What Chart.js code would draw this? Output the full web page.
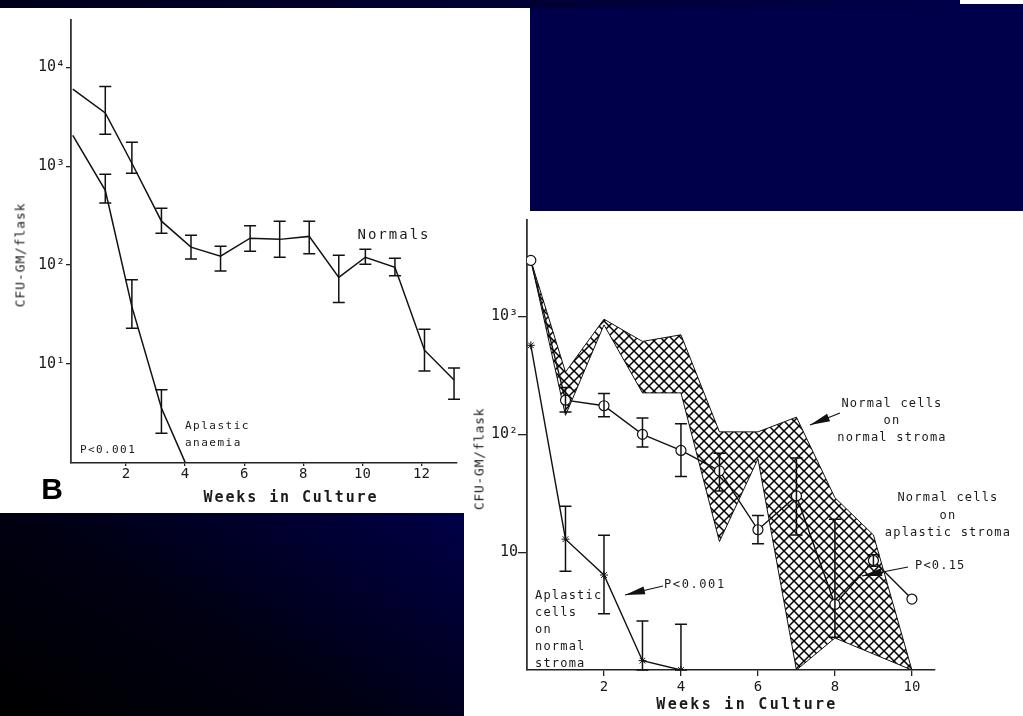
<!DOCTYPE html>
<html>
<head>
<meta charset="utf-8">
<script src="https://cdn.jsdelivr.net/npm/chart.js@4.4.1/dist/chart.umd.min.js"></script>
<style>
    html, body { margin: 0; padding: 0; }
    body { width: 1023px; height: 716px; position: relative; overflow: hidden; background: #00004a; }
    .blk { position: absolute; }
    .t { position: absolute; font-family: 'DejaVu Sans Mono', monospace; color: #1a1a1a; white-space: pre; line-height: 1; }
    .c { transform: translate(-50%, -50%); text-align: center; }
    .v { transform: translate(-50%, -50%) rotate(-90deg); }
    canvas { position: absolute; }
</style>
</head>
<body>
<div class="blk" style="left:0;top:0;width:960px;height:8px;background:linear-gradient(to right,#00001a,#00004a);"></div>
<div class="blk" style="left:960px;top:0;width:63px;height:4px;background:#fff;"></div>
<div class="blk" style="left:0;top:513px;width:464px;height:203px;background:linear-gradient(30deg,#000000 0%,#000012 45%,#000048 100%);"></div>
<div class="blk" style="left:0;top:8px;width:530px;height:505px;background:#fff;"></div>
<div class="blk" style="left:464px;top:211px;width:559px;height:505px;background:#fff;"></div>

<canvas id="grafico_1" width="530" height="505" style="left:0;top:8px;"></canvas>
<canvas id="grafico_2" width="559" height="505" style="left:464px;top:211px;"></canvas>

<!-- textos do grafico B -->
<div class="t v" style="left:20px;top:255px;font-size:13px;letter-spacing:0.9px;">CFU-GM/flask</div>
<div class="t c" style="left:394px;top:234px;font-size:14px;letter-spacing:2px;">Normals</div>
<div class="t" style="left:185px;top:417px;font-size:11px;letter-spacing:1.5px;line-height:17px;">Aplastic
anaemia</div>
<div class="t" style="left:80px;top:444px;font-size:11px;letter-spacing:1.4px;">P&lt;0.001</div>
<div class="t c" style="left:52px;top:489px;font-family:'Liberation Sans',Arial,sans-serif;font-weight:bold;font-size:30px;color:#000;">B</div>
<div class="t c" style="left:291px;top:497px;font-size:15px;font-weight:bold;letter-spacing:1.9px;">Weeks in Culture</div>

<!-- textos do grafico da direita -->
<div class="t v" style="left:479px;top:459px;font-size:13px;letter-spacing:0.7px;">CFU-GM/flask</div>
<div class="t c" style="left:892px;top:420px;font-size:12px;letter-spacing:1.2px;line-height:17px;">Normal cells
on
normal stroma</div>
<div class="t c" style="left:948px;top:515px;font-size:12px;letter-spacing:1.2px;line-height:17.5px;">Normal cells
on
aplastic stroma</div>
<div class="t" style="left:915px;top:559px;font-size:12px;letter-spacing:1.2px;">P&lt;0.15</div>
<div class="t" style="left:664px;top:578px;font-size:12px;letter-spacing:1.6px;">P&lt;0.001</div>
<div class="t" style="left:535px;top:587px;font-size:12px;letter-spacing:1.2px;line-height:17px;">Aplastic
cells
on
normal
stroma</div>
<div class="t c" style="left:747px;top:704px;font-size:15px;font-weight:bold;letter-spacing:2.3px;">Weeks in Culture</div>

<script>
// ---- Grafico B (esquerda) ----
var semanasNormais = [0.2, 1.3, 2.2, 3.2, 4.2, 5.2, 6.2, 7.2, 8.2, 9.2, 10.1, 11.1, 12.1, 13.1];
var cfuNormais     = [6000, 3450, 1070, 278, 152, 123, 187, 182, 195, 75, 120, 95, 13.8, 6.9];
var cfuNormaisMax  = [null, 6400, 1740, 375, 200, 155, 250, 278, 278, 126, 145, 117, 22.5, 9.1];
var cfuNormaisMin  = [null, 2100, 850, 210, 115, 87, 138, 120, 130, 42, 102, 78, 8.5, 4.4];

var semanasAplasticas = [0.2, 1.3, 2.2, 3.2, 4.0];
var cfuAplasticas     = [2050, 570, 38, 3.6, 1.02];
var cfuAplasticasMax  = [null, 830, 71, 5.5, null];
var cfuAplasticasMin  = [null, 425, 23, 2.0, null];

var ticksX_B = [2, 4, 6, 8, 10, 12];
var ticksY_B = [10, 100, 1000, 10000];
var rotulosY_B = ['10\u00b9', '10\u00b2', '10\u00b3', '10\u2074'];

// ---- Grafico da direita ----
var semanasCirculos = [0.1, 1, 2, 3, 4, 5, 6, 7, 8, 9, 10];
var cfuCirculos     = [3000, 195, 175, 100, 73, 49, 15.5, 30, 3.6, 8.5, 4.0];
var cfuCirculosMax  = [null, 250, 222, 138, 123, 69, 20.5, 63, 19, 9.5, null];
var cfuCirculosMin  = [null, 155, 141, 78, 44, 33, 11.8, 14, 1.9, 7.6, null];

var semanasEstrelas = [0.1, 1, 2, 3, 4];
var cfuEstrelas     = [570, 12.9, 6.4, 1.2, 1.0];
var cfuEstrelasMax  = [null, 24.5, 13.9, 2.6, 2.45];
var cfuEstrelasMin  = [null, 6.9, 3.0, 1.0, 1.0];

var semanasFaixaSup = [0.1, 1, 2, 3, 4, 5, 6, 7, 8, 9, 10];
var faixaSup        = [3000, 338, 950, 615, 700, 105, 105, 140, 29, 14, 1];
var semanasFaixaInf = [0.1, 1, 2, 3, 4, 5, 6, 7, 8, 10];
var faixaInf        = [3000, 145, 850, 225, 225, 12.3, 62, 1, 1.87, 1];

var ticksX_D = [2, 4, 6, 8, 10];
var ticksY_D = [10, 100, 1000];
var rotulosY_D = ['10', '10\u00b2', '10\u00b3'];

function pontos(xs, ys) {
    return xs.map((x, i) => ({ x: x, y: ys[i] }));
}

function hachura() {
    const c = document.createElement('canvas');
    c.width = 10; c.height = 10;
    const g = c.getContext('2d');
    g.fillStyle = '#fff';
    g.fillRect(0, 0, 10, 10);
    g.strokeStyle = '#000';
    g.lineWidth = 1.5;
    g.beginPath();
    g.moveTo(-1, -1); g.lineTo(11, 11);
    g.moveTo(11, -1); g.lineTo(-1, 11);
    g.stroke();
    return g.createPattern(c, 'repeat');
}

// barras de erro desenhadas com as escalas do proprio grafico
const barrasErro = {
    id: 'barrasErro',
    afterDatasetsDraw(chart, args, opts) {
        const ctx = chart.ctx;
        const sx = chart.scales.x, sy = chart.scales.y;
        ctx.save();
        ctx.strokeStyle = '#111';
        ctx.lineWidth = 1.5;
        opts.series.forEach(s => {
            s.x.forEach((w, i) => {
                if (s.max[i] == null) return;
                const px = sx.getPixelForValue(w);
                const pTop = sy.getPixelForValue(s.max[i]);
                const pBot = sy.getPixelForValue(s.min[i]);
                ctx.beginPath();
                ctx.moveTo(px, pTop); ctx.lineTo(px, pBot);
                ctx.moveTo(px - opts.cap, pTop); ctx.lineTo(px + opts.cap, pTop);
                ctx.moveTo(px - opts.cap, pBot); ctx.lineTo(px + opts.cap, pBot);
                ctx.stroke();
            });
        });
        ctx.restore();
    }
};

// setas das anotacoes
const setas = {
    id: 'setas',
    afterDraw(chart, args, opts) {
        const ctx = chart.ctx;
        ctx.save();
        ctx.strokeStyle = '#111';
        ctx.fillStyle = '#111';
        ctx.lineWidth = 1.2;
        (opts.lista || []).forEach(a => {
            const [x1, y1] = a.de, [x2, y2] = a.para;
            const ang = Math.atan2(y2 - y1, x2 - x1);
            ctx.beginPath();
            ctx.moveTo(x1, y1); ctx.lineTo(x2, y2);
            ctx.stroke();
            ctx.beginPath();
            ctx.moveTo(x2, y2);
            ctx.lineTo(x2 - 20 * Math.cos(ang) + 4 * Math.sin(ang), y2 - 20 * Math.sin(ang) - 4 * Math.cos(ang));
            ctx.lineTo(x2 - 20 * Math.cos(ang) - 4 * Math.sin(ang), y2 - 20 * Math.sin(ang) + 4 * Math.cos(ang));
            ctx.closePath();
            ctx.fill();
        });
        ctx.restore();
    }
};

Chart.defaults.font.family = "'DejaVu Sans Mono', monospace";
Chart.defaults.color = '#1a1a1a';

function eixos(cfg) {
    return {
        x: {
            type: 'linear',
            min: cfg.xmin, max: cfg.xmax,
            afterFit: (s) => { s.height = cfg.altX; },
            afterBuildTicks: (s) => { s.ticks = cfg.ticksX.map(v => ({ value: v })); },
            ticks: { autoSkip: false, maxRotation: 0, padding: cfg.padX, font: { size: 14 }, color: '#1a1a1a' },
            grid: { drawOnChartArea: false, drawTicks: true, tickLength: cfg.tickX, color: '#222', lineWidth: 1.3 },
            border: { display: true, color: '#222', width: 1.6 }
        },
        y: {
            type: 'logarithmic',
            min: cfg.ymin, max: cfg.ymax,
            afterFit: (s) => { s.width = cfg.largY; },
            afterBuildTicks: (s) => { s.ticks = cfg.ticksY.map(v => ({ value: v })); },
            ticks: {
                autoSkip: false, padding: cfg.padY, font: { size: 15 }, color: '#1a1a1a',
                callback: (v) => cfg.rotulosY[cfg.ticksY.indexOf(v)]
            },
            grid: { drawOnChartArea: false, drawTicks: true, tickLength: cfg.tickY, color: '#222', lineWidth: 1.3 },
            border: { display: true, color: '#333', width: 1.8 }
        }
    };
}

var grafico1 = new Chart(document.getElementById('grafico_1').getContext('2d'), {
    type: 'line',
    data: {
        datasets: [{
            label: 'Normals',
            data: pontos(semanasNormais, cfuNormais),
            borderColor: '#111',
            borderWidth: 1.5,
            pointRadius: 0,
            fill: false
        }, {
            label: 'Aplastic anaemia',
            data: pontos(semanasAplasticas, cfuAplasticas),
            borderColor: '#111',
            borderWidth: 1.5,
            pointRadius: 0,
            fill: false
        }]
    },
    options: {
        responsive: false,
        animation: false,
        layout: { padding: { top: 12, right: 73, left: 0, bottom: 0 } },
        scales: eixos({
            xmin: 0.14, xmax: 13.2, ticksX: ticksX_B, altX: 50, padX: 0, tickX: 3,
            ymin: 1, ymax: 30000, ticksY: ticksY_B, rotulosY: rotulosY_B, largY: 71, padY: 1, tickY: 5
        }),
        plugins: {
            legend: { display: false },
            tooltip: { enabled: false },
            barrasErro: {
                cap: 6,
                series: [
                    { x: semanasNormais, max: cfuNormaisMax, min: cfuNormaisMin },
                    { x: semanasAplasticas, max: cfuAplasticasMax, min: cfuAplasticasMin }
                ]
            }
        }
    },
    plugins: [barrasErro]
});

var grafico2 = new Chart(document.getElementById('grafico_2').getContext('2d'), {
    type: 'line',
    data: {
        datasets: [{
            label: 'Normal cells on normal stroma (max)',
            data: pontos(semanasFaixaSup, faixaSup),
            borderColor: '#111',
            borderWidth: 1,
            backgroundColor: hachura(),
            pointRadius: 0,
            fill: '+1',
            order: 3
        }, {
            label: 'Normal cells on normal stroma (min)',
            data: pontos(semanasFaixaInf, faixaInf),
            borderColor: '#111',
            borderWidth: 1,
            pointRadius: 0,
            fill: false,
            order: 2
        }, {
            label: 'Normal cells on aplastic stroma',
            data: pontos(semanasCirculos, cfuCirculos),
            borderColor: '#111',
            borderWidth: 1.4,
            pointStyle: 'circle',
            pointRadius: 5,
            pointBackgroundColor: '#fff',
            pointBorderColor: '#111',
            pointBorderWidth: 1.2,
            fill: false,
            order: 1
        }, {
            label: 'Aplastic cells on normal stroma',
            data: pontos(semanasEstrelas, cfuEstrelas),
            borderColor: '#111',
            borderWidth: 1.4,
            pointStyle: 'star',
            pointRadius: 4,
            pointBorderColor: '#111',
            pointBorderWidth: 1,
            fill: false,
            order: 0
        }]
    },
    options: {
        responsive: false,
        animation: false,
        layout: { padding: { top: 6, right: 88, left: 0, bottom: 0 } },
        scales: eixos({
            xmin: 0, xmax: 10.6, ticksX: ticksX_D, altX: 46, padX: 3, tickX: 6,
            ymin: 1, ymax: 6600, ticksY: ticksY_D, rotulosY: rotulosY_D, largY: 63, padY: 0, tickY: 9
        }),
        plugins: {
            legend: { display: false },
            tooltip: { enabled: false },
            barrasErro: {
                cap: 6,
                series: [
                    { x: semanasCirculos, max: cfuCirculosMax, min: cfuCirculosMin },
                    { x: semanasEstrelas, max: cfuEstrelasMax, min: cfuEstrelasMin }
                ]
            },
            setas: {
                lista: [
                    { de: [376, 202], para: [346, 214] },
                    { de: [199, 375], para: [161, 384] },
                    { de: [444, 356], para: [398, 365] }
                ]
            }
        }
    },
    plugins: [barrasErro, setas]
});
</script>
</body>
</html>
